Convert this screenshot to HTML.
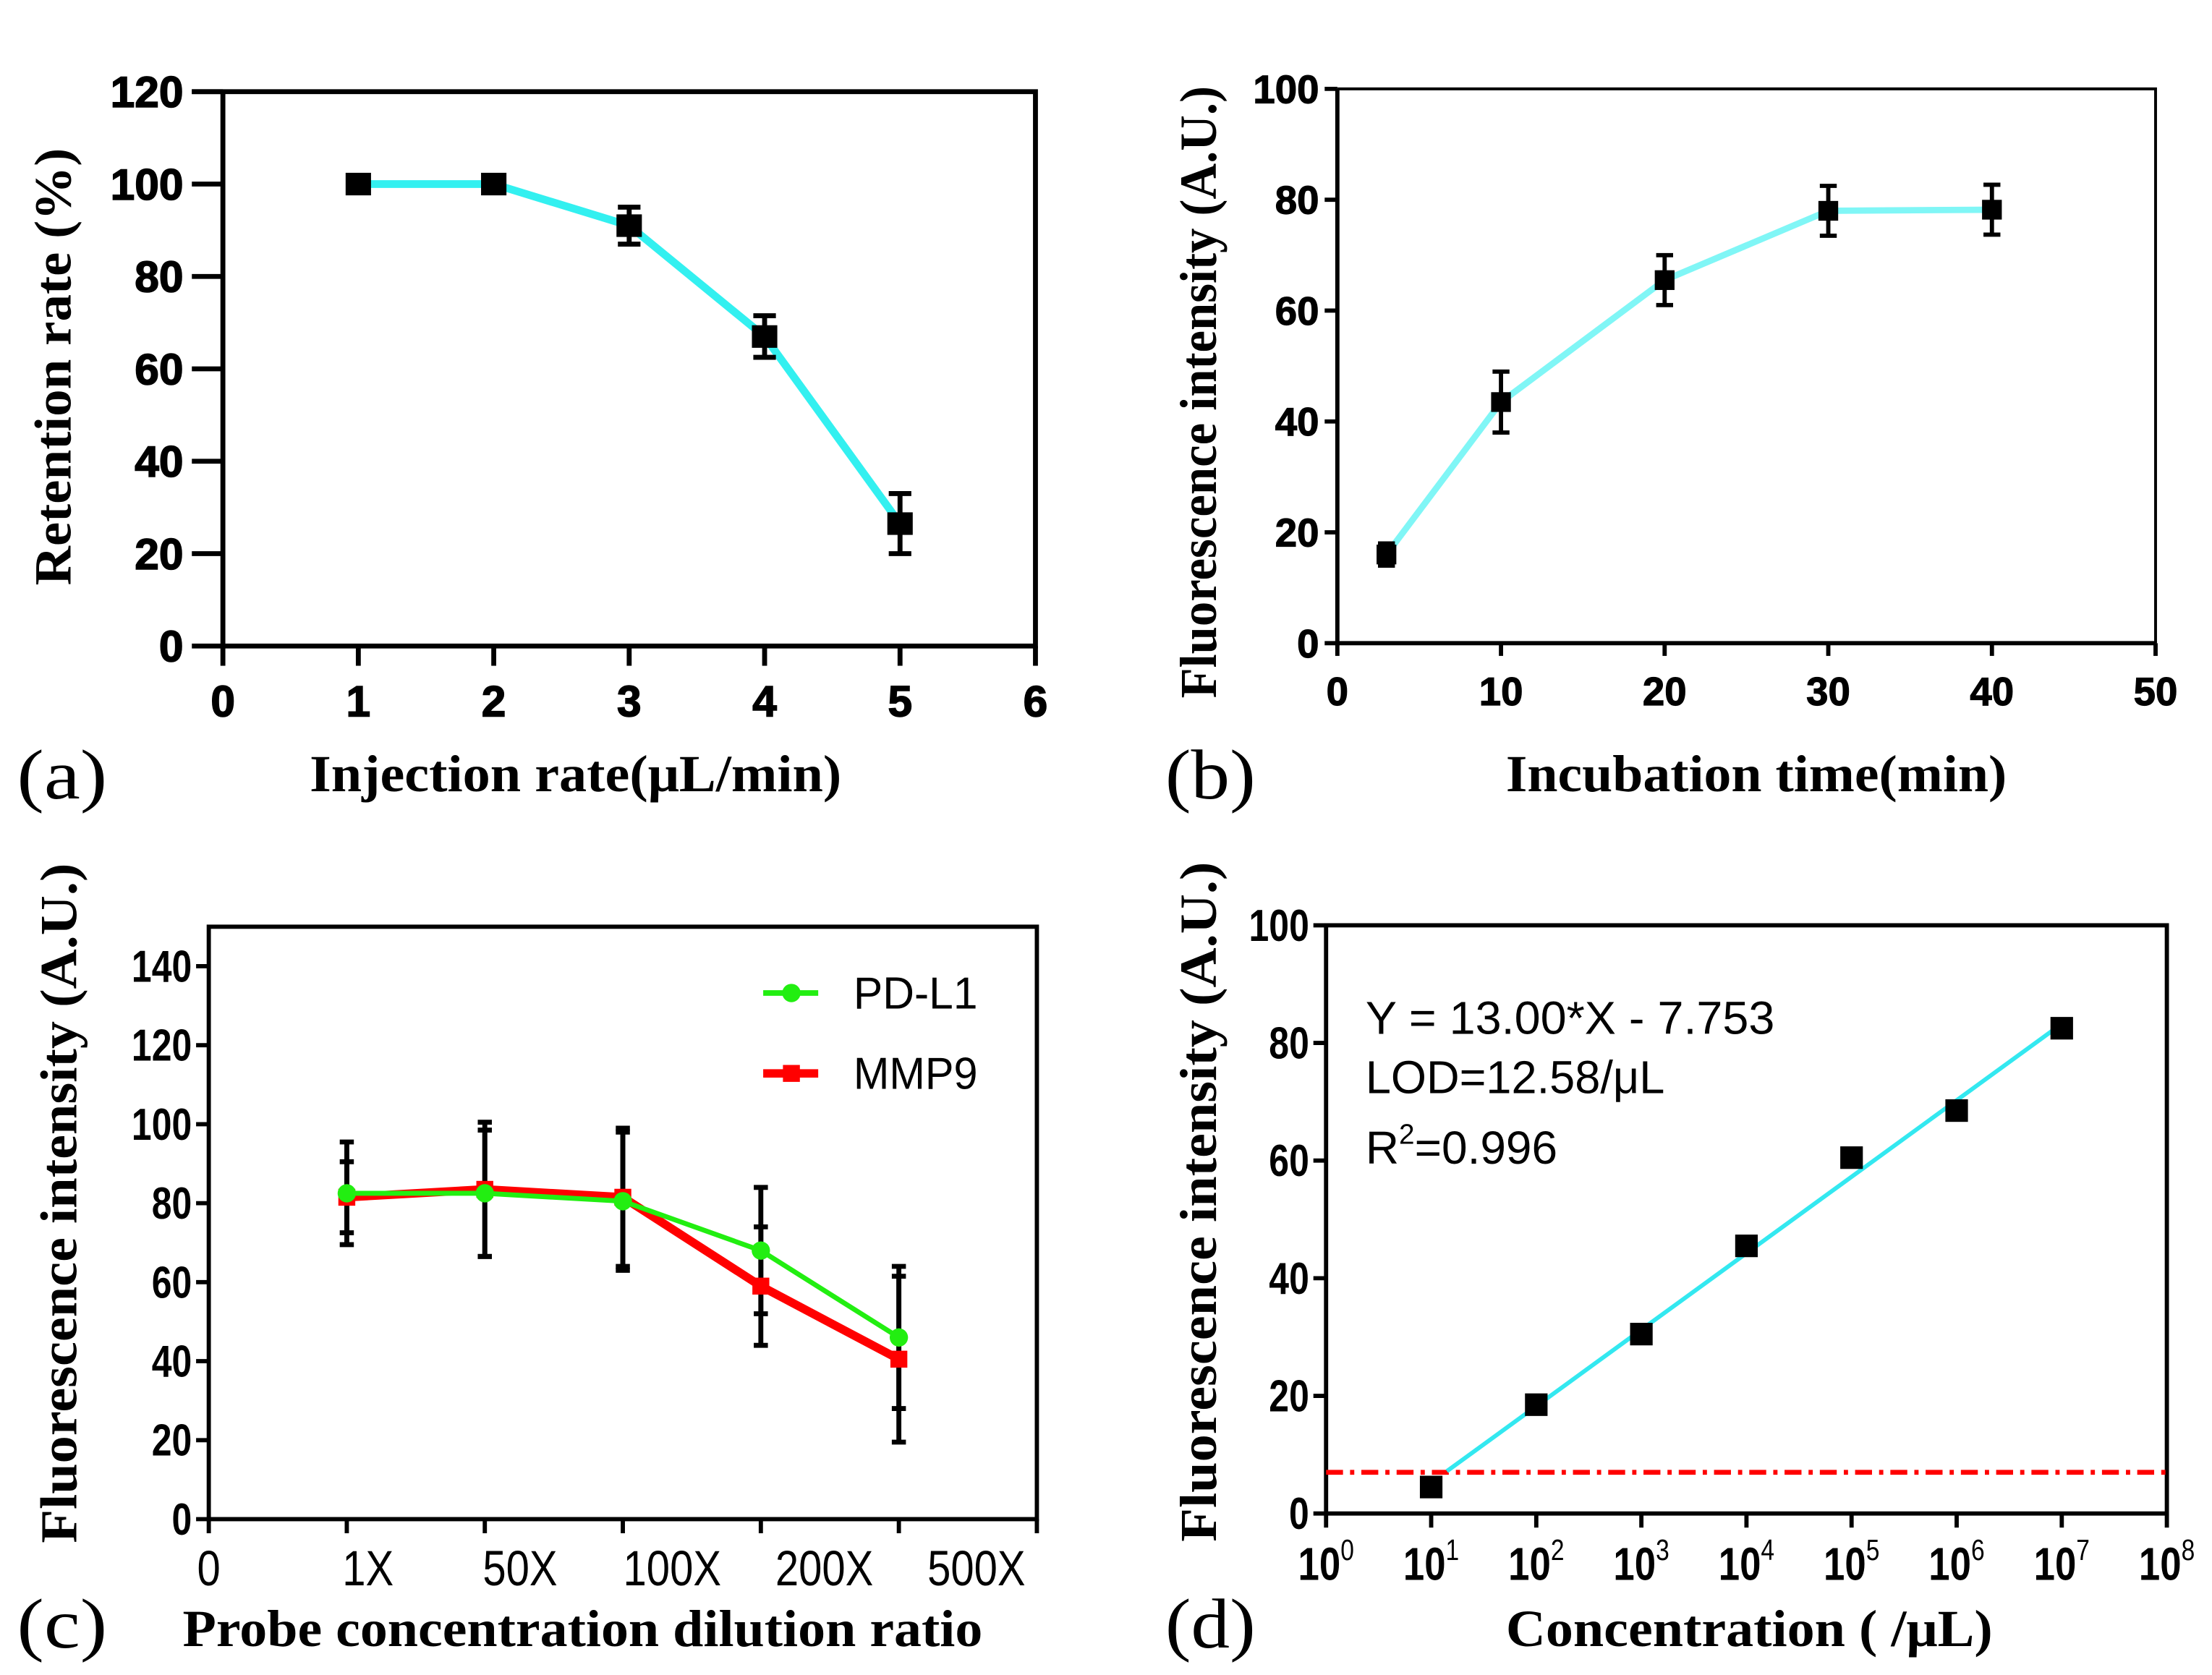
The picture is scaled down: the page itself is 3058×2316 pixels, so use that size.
<!DOCTYPE html>
<html><head><meta charset="utf-8"><style>
html,body{margin:0;padding:0;background:#fff;}
svg{display:block;}
</style></head><body>
<svg id="fig" xmlns="http://www.w3.org/2000/svg" width="3058" height="2316" viewBox="0 0 1568 1187.5" preserveAspectRatio="none">
<rect width="1568" height="1188" fill="#fff"/>
</svg>
<script>
// Panel a data
const aX = [1, 2, 3, 4, 5];
const aY = [100, 100, 91, 67, 26.5];
const aErr = [0, 0, 4, 4.5, 6.5];
const aXTicks = [0, 1, 2, 3, 4, 5, 6];
const aYTicks = [0, 20, 40, 60, 80, 100, 120];
// Panel b data
const bX = [3, 10, 20, 30, 40];
const bY = [16, 43.5, 65.5, 78, 78.2];
const bErr = [2, 5.5, 4.5, 4.5, 4.5];
const bXTicks = [0, 10, 20, 30, 40, 50];
const bYTicks = [0, 20, 40, 60, 80, 100];
// Panel c data
const cCats = ["1X", "50X", "100X", "200X", "500X"];
const cPD = [82.5, 82.5, 80.5, 68, 46];
const cPDErr = [13, 16, 17.5, 16, 18];
const cMMP = [81.5, 83.5, 81.5, 59, 40.5];
const cMMPErr = [9, 17, 17.5, 15, 21];
const cYTicks = [0, 20, 40, 60, 80, 100, 120, 140];
// Panel d data
const dX = [1, 2, 3, 4, 5, 6, 7];
const dY = [4.5, 18.5, 30.5, 45.5, 60.5, 68.5, 82.5];
const dSlope = 13.00, dIntercept = -7.753;
const dLod = 7;
const dXTicks = [0, 1, 2, 3, 4, 5, 6, 7, 8];
const dYTicks = [0, 20, 40, 60, 80, 100];

const svg = document.getElementById('fig');
const NS = 'http://www.w3.org/2000/svg';
function mk(tag, attrs, parent, text) {
  const e = document.createElementNS(NS, tag);
  for (const k in attrs) e.setAttribute(k, attrs[k]);
  if (text !== undefined) e.textContent = text;
  (parent || svg).appendChild(e);
  return e;
}
function scale(d0, d1, r0, r1) { return v => r0 + (v - d0) / (d1 - d0) * (r1 - r0); }
function squeeze(x, k) { return `translate(${x} 0) scale(${k} 1) translate(${-x} 0)`; }

function frame(g, L, R, T, B) {
  const r = mk('rect', {x: L, y: T, width: R - L, height: B - T, fill: 'none', stroke: '#000', 'stroke-width': 3}, g);
  
  
}
function title(g, txt, x, y, rot, name, len) {
  const t = mk('text', {x: x, y: y, 'text-anchor': 'middle', 'font-size': 37, 'font-family': '"Liberation Serif", serif', 'font-weight': 'bold', textLength: len, lengthAdjust: 'spacingAndGlyphs', transform: rot ? `rotate(-90 ${x} ${y})` : ''}, g, txt);
  
  
}
function letter(g, txt, x, y) {
  const t = mk('text', {x: x, y: y, 'font-size': 50, 'font-family': '"Liberation Serif", serif', textLength: 64, lengthAdjust: 'spacingAndGlyphs'}, g, txt);
  
  
}
function errBar(g, x, y0, y1, w, sw, color) {
  const e = mk('path', {d: `M${x},${y0}V${y1}M${x - w},${y0}H${x + w}M${x - w},${y1}H${x + w}`, stroke: color || '#000', 'stroke-width': sw, fill: 'none'}, g);
  
  
}
const ARIAL = '"Liberation Sans", Arial, sans-serif';

// ---------- Panel a ----------
(function () {
  const g = mk('g', {});  
  const L = 158, R = 734, T = 65, B = 458;
  const xs = scale(0, 6, L, R), ys = scale(0, 120, B, T);
  const fr = mk('path', {d: `M${L - 22},${T}H${R}V${B}H${L}V${T}`, fill: 'none', stroke: '#000', 'stroke-width': 3.5}, g);
  
  
  aYTicks.forEach(t => {
    mk('line', {x1: L - 22, x2: L, y1: ys(t), y2: ys(t), stroke: '#000', 'stroke-width': 3.5}, g);
    const tx = mk('text', {x: L - 28, y: ys(t) + 11, 'text-anchor': 'end', 'font-size': 31, 'font-family': ARIAL, 'font-weight': 'bold', stroke: '#000', 'stroke-width': 0.8}, g, t);
     
  });
  aXTicks.forEach(t => {
    mk('line', {x1: xs(t), x2: xs(t), y1: B, y2: B + 14, stroke: '#000', 'stroke-width': 3.5}, g);
    const tx = mk('text', {x: xs(t), y: B + 50, 'text-anchor': 'middle', 'font-size': 31, 'font-family': ARIAL, 'font-weight': 'bold', stroke: '#000', 'stroke-width': 0.8}, g, t);
     
  });
  const line = mk('polyline', {points: aX.map((x, i) => xs(x) + ',' + ys(aY[i])).join(' '), fill: 'none', stroke: '#33f0f0', 'stroke-width': 5.5}, g);
   
  aX.forEach((x, i) => {
    if (aErr[i] > 0) errBar(g, xs(x), ys(aY[i] + aErr[i]), ys(aY[i] - aErr[i]), 8, 3.5);
    const m = mk('rect', {x: xs(x) - 9, y: ys(aY[i]) - 8, width: 18, height: 16, fill: '#000'}, g);
     
  });
  title(g, 'Retention rate (%)', 50, 260, true, 'y-axis-title', 310);
  title(g, 'Injection rate(μL/min)', 408, 561, false, 'x-axis-title', 377);
  letter(g, '(a)', 12, 566);
})();

// ---------- Panel b ----------
(function () {
  const g = mk('g', {});  
  const L = 948, R = 1528, T = 63, B = 456;
  const xs = scale(0, 50, L, R), ys = scale(0, 100, B, T);
  mk('path', {d: `M${L},${T}V${B}H${R}`, fill: 'none', stroke: '#000', 'stroke-width': 3}, g);
  mk('path', {d: `M${L},${T}H${R}V${B}`, fill: 'none', stroke: '#000', 'stroke-width': 2}, g);
  bYTicks.forEach(t => {
    mk('line', {x1: L - 9, x2: L, y1: ys(t), y2: ys(t), stroke: '#000', 'stroke-width': 3}, g);
    const tx = mk('text', {x: L - 13, y: ys(t) + 10, 'text-anchor': 'end', 'font-size': 28, 'font-family': ARIAL, 'font-weight': 'bold', stroke: '#000', 'stroke-width': 0.6}, g, t);
     
  });
  bXTicks.forEach(t => {
    mk('line', {x1: xs(t), x2: xs(t), y1: B, y2: B + 9, stroke: '#000', 'stroke-width': 3}, g);
    const tx = mk('text', {x: xs(t), y: B + 44, 'text-anchor': 'middle', 'font-size': 28, 'font-family': ARIAL, 'font-weight': 'bold', stroke: '#000', 'stroke-width': 0.6}, g, t);
     
  });
  const line = mk('polyline', {points: bX.map((x, i) => xs(x) + ',' + ys(bY[i])).join(' '), fill: 'none', stroke: '#80f6f6', 'stroke-width': 4.5}, g);
   
  bX.forEach((x, i) => {
    errBar(g, xs(x), ys(bY[i] + bErr[i]), ys(bY[i] - bErr[i]), 6, 3);
    const m = mk('rect', {x: xs(x) - 7, y: ys(bY[i]) - 7, width: 14, height: 14, fill: '#000'}, g);
     
  });
  title(g, 'Fluorescence intensity (A.U.)', 862, 278, true, 'y-axis-title', 434);
  title(g, 'Incubation time(min)', 1245, 561, false, 'x-axis-title', 355);
  letter(g, '(b)', 826, 566);
})();

// ---------- Panel c ----------
(function () {
  const g = mk('g', {});  
  const L = 148, R = 735, T = 657, B = 1077;
  const xs = scale(0, 6, L, R), ys = scale(0, 150, B, T);
  frame(g, L, R, T, B);
  cYTicks.forEach(t => {
    mk('line', {x1: L - 9, x2: L, y1: ys(t), y2: ys(t), stroke: '#000', 'stroke-width': 3}, g);
    const tx = mk('text', {x: L - 12, y: ys(t) + 11, 'text-anchor': 'end', 'font-size': 32, 'font-family': ARIAL, 'font-weight': 'bold', transform: squeeze(L - 12, 0.8)}, g, t);
     
  });
  ['0'].concat(cCats).forEach((c, i) => {
    mk('line', {x1: xs(i), x2: xs(i), y1: B, y2: B + 10, stroke: '#000', 'stroke-width': 3}, g);
    const cx = xs(i) + (i ? 5 + 10 * i : 0);
    const tx = mk('text', {x: cx, y: B + 47, 'text-anchor': 'middle', 'font-size': 35, 'font-family': ARIAL, transform: squeeze(cx, 0.85)}, g, c);
     
  });
  mk('line', {x1: R, x2: R, y1: B, y2: B + 10, stroke: '#000', 'stroke-width': 3}, g);
  const pos = cCats.map((c, i) => i + 1);
  pos.forEach((p, i) => {
    errBar(g, xs(p), ys(cMMP[i] + cMMPErr[i]), ys(cMMP[i] - cMMPErr[i]), 5, 3.5);
    errBar(g, xs(p), ys(cPD[i] + cPDErr[i]), ys(cPD[i] - cPDErr[i]), 5, 3.5);
  });
  const mm = mk('polyline', {points: pos.map((p, i) => xs(p) + ',' + ys(cMMP[i])).join(' '), fill: 'none', stroke: '#f00', 'stroke-width': 6}, g);
   
  pos.forEach((p, i) => {
    const m = mk('rect', {x: xs(p) - 6, y: ys(cMMP[i]) - 6, width: 12, height: 12, fill: '#f00'}, g);
     
  });
  const pd = mk('polyline', {points: pos.map((p, i) => xs(p) + ',' + ys(cPD[i])).join(' '), fill: 'none', stroke: '#22ee11', 'stroke-width': 3.5}, g);
   
  pos.forEach((p, i) => {
    const m = mk('circle', {cx: xs(p), cy: ys(cPD[i]), r: 6.5, fill: '#22ee11'}, g);
     
  });
  const lg = mk('g', {}, g);  
  mk('line', {x1: 541, x2: 580, y1: 704, y2: 704, stroke: '#22ee11', 'stroke-width': 4}, lg);
  mk('circle', {cx: 561, cy: 704, r: 6.5, fill: '#22ee11'}, lg);
  const t1 = mk('text', {x: 605, y: 715, 'font-size': 32, 'font-family': ARIAL, textLength: 88, lengthAdjust: 'spacingAndGlyphs'}, lg, 'PD-L1');
   
  mk('line', {x1: 541, x2: 580, y1: 761, y2: 761, stroke: '#f00', 'stroke-width': 6}, lg);
  mk('rect', {x: 555, y: 755, width: 12, height: 12, fill: '#f00'}, lg);
  const t2 = mk('text', {x: 605, y: 772, 'font-size': 32, 'font-family': ARIAL, textLength: 88, lengthAdjust: 'spacingAndGlyphs'}, lg, 'MMP9');
   
  title(g, 'Fluorescence intensity (A.U.)', 54, 853, true, 'y-axis-title', 482);
  title(g, 'Probe concentration dilution ratio', 413, 1167, false, 'x-axis-title', 567);
  letter(g, '(c)', 12, 1168);
})();

// ---------- Panel d ----------
(function () {
  const g = mk('g', {});  
  const L = 940, R = 1536, T = 656, B = 1073;
  const xs = scale(0, 8, L, R), ys = scale(0, 100, B, T);
  frame(g, L, R, T, B);
  dYTicks.forEach(t => {
    mk('line', {x1: L - 9, x2: L, y1: ys(t), y2: ys(t), stroke: '#000', 'stroke-width': 3}, g);
    const tx = mk('text', {x: L - 12, y: ys(t) + 11, 'text-anchor': 'end', 'font-size': 32, 'font-family': ARIAL, 'font-weight': 'bold', transform: squeeze(L - 12, 0.8)}, g, t);
     
  });
  dXTicks.forEach(t => {
    mk('line', {x1: xs(t), x2: xs(t), y1: B, y2: B + 10, stroke: '#000', 'stroke-width': 3}, g);
    const cx = xs(t);
    const tx = mk('text', {x: cx, y: B + 47, 'text-anchor': 'middle', 'font-size': 33, 'font-family': ARIAL, 'font-weight': 'bold', transform: squeeze(cx, 0.82)}, g);
     
    tx.appendChild(document.createTextNode('10'));
    mk('tspan', {'font-size': 21, dy: -14, 'font-weight': 'normal'}, tx, t);
  });
  const lod = mk('line', {x1: L, x2: R, y1: ys(dLod), y2: ys(dLod), stroke: '#f00', 'stroke-width': 3.5, 'stroke-dasharray': '12 5 3 5'}, g);
   
  const x0 = 1.15, x1 = 7;
  const fit = mk('line', {x1: xs(x0), y1: ys(dSlope * x0 + dIntercept), x2: xs(x1), y2: ys(dSlope * x1 + dIntercept), stroke: '#33e8f0', 'stroke-width': 3}, g);
   
  dX.forEach((x, i) => {
    const m = mk('rect', {x: xs(x) - 8, y: ys(dY[i]) - 8, width: 16, height: 16, fill: '#000'}, g);
     
  });
  const ann = mk('g', {'font-size': 33, 'font-family': ARIAL}, g);
   
  mk('text', {x: 968, y: 733, textLength: 290, lengthAdjust: 'spacingAndGlyphs'}, ann, 'Y = 13.00*X - 7.753');
  mk('text', {x: 968, y: 775, textLength: 212, lengthAdjust: 'spacingAndGlyphs'}, ann, 'LOD=12.58/μL');
  const r2 = mk('text', {x: 968, y: 825, textLength: 136, lengthAdjust: 'spacingAndGlyphs'}, ann, 'R');
  mk('tspan', {'font-size': 20, dy: -14}, r2, '2');
  mk('tspan', {dy: 14}, r2, '=0.996');
  title(g, 'Fluorescence intensity (A.U.)', 862, 852, true, 'y-axis-title', 482);
  title(g, 'Concentration ( /μL)', 1240, 1167, false, 'x-axis-title', 345);
  letter(g, '(d)', 826, 1168);
})();
</script>
</body></html>
